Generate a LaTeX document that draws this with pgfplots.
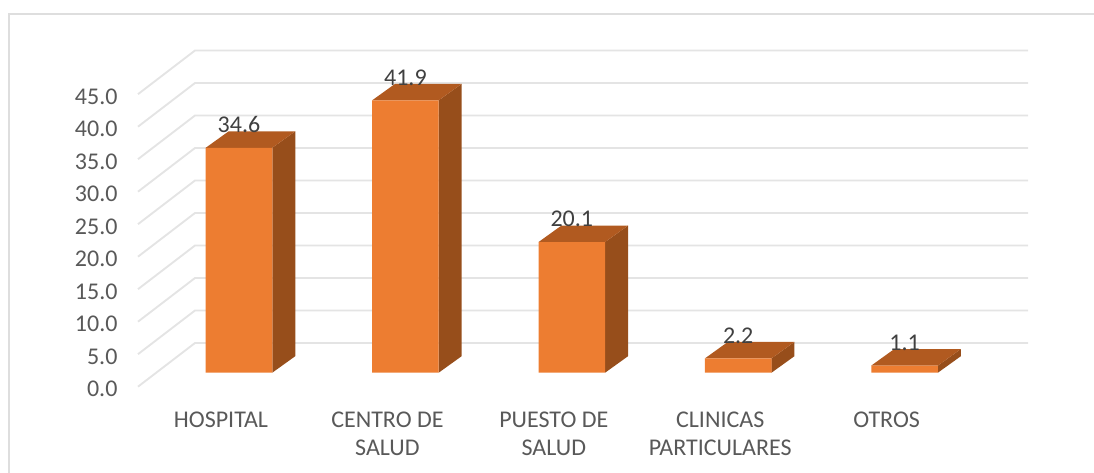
\documentclass[border=0pt]{standalone}
\usepackage{fontspec}
\setmainfont{Carlito}
\usepackage{pgfplots}
\pgfplotsset{compat=1.18}
\definecolor{barfront}{RGB}{237,125,49}
\definecolor{bartop}{RGB}{177,90,32}
\definecolor{barside}{RGB}{151,78,27}
\definecolor{gridcol}{RGB}{228,228,228}
\definecolor{framecol}{RGB}{222,222,222}
\definecolor{ticktext}{RGB}{89,89,89}
\definecolor{datatext}{RGB}{64,64,64}

\begin{document}
\begin{tikzpicture}[x=1pt,y=1pt]
  \path[use as bounding box] (0,0) rectangle (1094,473);
  % chart frame, only top and left are in the crop
  \draw[framecol, line width=1.6pt] (9,0) -- (9,459) -- (1094,459);

  \begin{axis}[
      at={(138pt,100.3pt)}, anchor=south west,
      scale only axis,
      width=890pt, height=292.5pt,
      xmin=-0.607, xmax=4.7416,
      ymin=0, ymax=45,
      xtick={0,1,2,3,4},
      xticklabels={HOSPITAL,{CENTRO DE\\SALUD},{PUESTO DE\\SALUD},{CLINICAS\\PARTICULARES},OTROS},
      ytick={0,5,10,15,20,25,30,35,40,45},
      axis line style={draw=none},
      major tick length=0pt,
      clip=false,
      x tick label style={font=\fontsize{24}{27.5}\selectfont, text=ticktext,
        align=center, anchor=north, xshift=-18pt, yshift=-36pt},
      y tick label style={font=\fontsize{24}{27}\selectfont, text=ticktext,
        anchor=east, xshift=-17pt, yshift=-16.5pt},
      /pgf/number format/assume math mode=true,
      yticklabel style={/pgf/number format/.cd, fixed, fixed zerofill, precision=1},
    ]

    % wall and floor gridlines
    \addplot[gridcol, line width=1.9pt, mark=none] coordinates {(-0.607,-2.15) (-0.2644,4.57) (4.7416,4.57)};
    \addplot[gridcol, line width=1.9pt, mark=none] coordinates {(-0.607,2.85) (-0.2644,9.57) (4.7416,9.57)};
    \addplot[gridcol, line width=1.9pt, mark=none] coordinates {(-0.607,7.85) (-0.2644,14.57) (4.7416,14.57)};
    \addplot[gridcol, line width=1.9pt, mark=none] coordinates {(-0.607,12.85) (-0.2644,19.57) (4.7416,19.57)};
    \addplot[gridcol, line width=1.9pt, mark=none] coordinates {(-0.607,17.85) (-0.2644,24.57) (4.7416,24.57)};
    \addplot[gridcol, line width=1.9pt, mark=none] coordinates {(-0.607,22.85) (-0.2644,29.57) (4.7416,29.57)};
    \addplot[gridcol, line width=1.9pt, mark=none] coordinates {(-0.607,27.85) (-0.2644,34.57) (4.7416,34.57)};
    \addplot[gridcol, line width=1.9pt, mark=none] coordinates {(-0.607,32.85) (-0.2644,39.57) (4.7416,39.57)};
    \addplot[gridcol, line width=1.9pt, mark=none] coordinates {(-0.607,37.85) (-0.2644,44.57) (4.7416,44.57)};
    \addplot[gridcol, line width=1.9pt, mark=none] coordinates {(-0.607,42.85) (-0.2644,49.57) (4.7416,49.57)};

    % right side faces of the bars
    \addplot[fill=barside, draw=none, mark=none] coordinates {(0.2,0) (0.338,2.54) (0.338,37.14) (0.2,34.6)};
    \addplot[fill=barside, draw=none, mark=none] coordinates {(1.2,0) (1.338,2.54) (1.338,44.44) (1.2,41.9)};
    \addplot[fill=barside, draw=none, mark=none] coordinates {(2.2,0) (2.338,2.54) (2.338,22.64) (2.2,20.1)};
    \addplot[fill=barside, draw=none, mark=none] coordinates {(3.2,0) (3.338,2.54) (3.338,4.74) (3.2,2.2)};
    \addplot[fill=barside, draw=none, mark=none] coordinates {(4.2,0) (4.338,2.54) (4.338,3.64) (4.2,1.1)};

    % top faces of the bars
    \addplot[fill=bartop, draw=none, mark=none] coordinates {(-0.2,34.6) (0.2,34.6) (0.338,37.14) (-0.062,37.14)};
    \addplot[fill=bartop, draw=none, mark=none] coordinates {(0.8,41.9) (1.2,41.9) (1.338,44.44) (0.938,44.44)};
    \addplot[fill=bartop, draw=none, mark=none] coordinates {(1.8,20.1) (2.2,20.1) (2.338,22.64) (1.938,22.64)};
    \addplot[fill=bartop, draw=none, mark=none] coordinates {(2.8,2.2) (3.2,2.2) (3.338,4.74) (2.938,4.74)};
    \addplot[fill=bartop, draw=none, mark=none] coordinates {(3.8,1.1) (4.2,1.1) (4.338,3.64) (3.938,3.64)};

    % front faces, the actual values
    \addplot[ybar, bar width=66.6pt, bar shift=0pt, fill=barfront, draw=none,
        nodes near coords,
        every node near coord/.append style={
          anchor=center, yshift=23pt, text=datatext,
          font=\fontsize{24}{27}\selectfont,
          /pgf/number format/.cd, fixed, fixed zerofill, precision=1,
          assume math mode=true},
      ] coordinates {(0,34.6) (1,41.9) (2,20.1) (3,2.2) (4,1.1)};

  \end{axis}
\end{tikzpicture}
\end{document}
